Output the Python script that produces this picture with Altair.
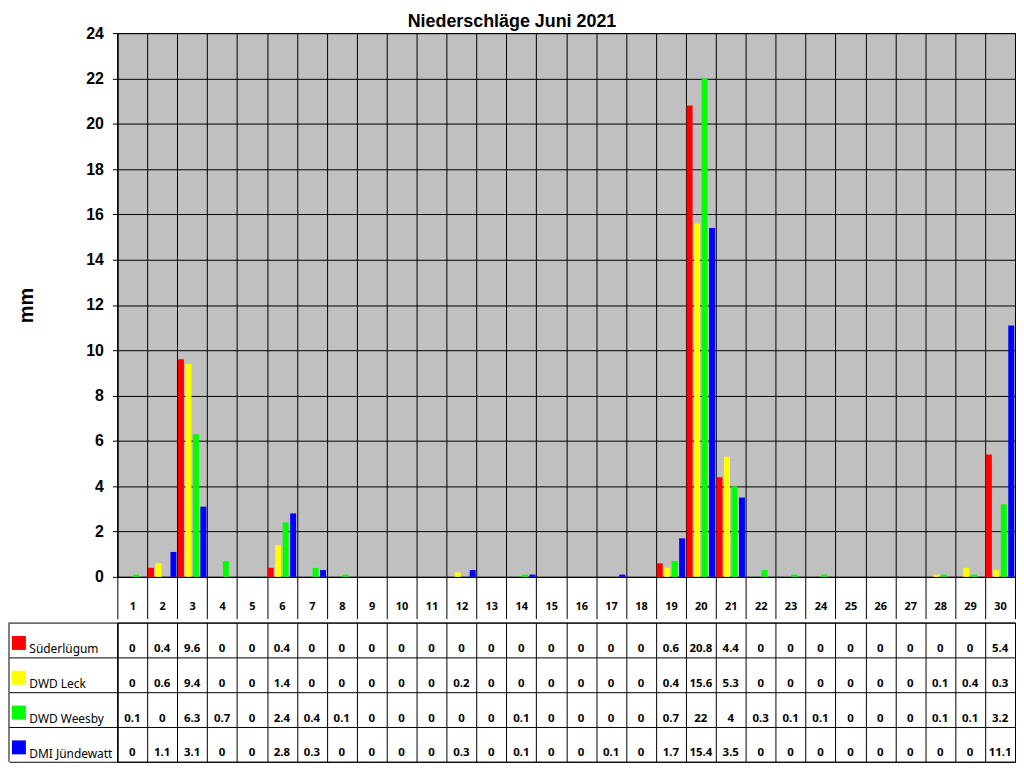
import altair as alt
import pandas as pd

days = list(range(1, 31))
stations = ["Süderlügum", "DWD Leck", "DWD Weesby", "DMI Jündewatt"]
colors = ["#ff0000", "#ffff00", "#00ff00", "#0000ff"]

suederluegum = [0, 0.4, 9.6, 0, 0, 0.4, 0, 0, 0, 0, 0, 0, 0, 0, 0, 0, 0, 0, 0.6, 20.8,
                4.4, 0, 0, 0, 0, 0, 0, 0, 0, 5.4]
leck = [0, 0.6, 9.4, 0, 0, 1.4, 0, 0, 0, 0, 0, 0.2, 0, 0, 0, 0, 0, 0, 0.4, 15.6,
        5.3, 0, 0, 0, 0, 0, 0, 0.1, 0.4, 0.3]
weesby = [0.1, 0, 6.3, 0.7, 0, 2.4, 0.4, 0.1, 0, 0, 0, 0, 0, 0.1, 0, 0, 0, 0, 0.7, 22,
          4, 0.3, 0.1, 0.1, 0, 0, 0, 0.1, 0.1, 3.2]
juendewatt = [0, 1.1, 3.1, 0, 0, 2.8, 0.3, 0, 0, 0, 0, 0.3, 0, 0.1, 0, 0, 0.1, 0, 1.7, 15.4,
              3.5, 0, 0, 0, 0, 0, 0, 0, 0, 11.1]

series = [suederluegum, leck, weesby, juendewatt]
rows = []
for st, vals in zip(stations, series):
    for d, v in zip(days, vals):
        rows.append({"day": d, "station": st, "value": v})
df = pd.DataFrame(rows)
st_df = pd.DataFrame({"station": stations})

FONT_T = "Noto Sans"

x_bar = alt.X(
    "day:O", sort=days,
    scale=alt.Scale(paddingInner=0, paddingOuter=0),
    axis=alt.Axis(title=None, labelAngle=0, tickBand="extent", tickSize=42, tickColor="black",
                  grid=True, gridColor="black", gridOpacity=1, domainColor="black",
                  labelFont=FONT_T, labelFontWeight="bold", labelFontSize=11, labelColor="black",
                  labelPadding=-18),
)

bars = alt.Chart(df).mark_bar(strokeWidth=0).encode(
    x=x_bar,
    xOffset=alt.XOffset("station:N", scale=alt.Scale(domain=stations, paddingInner=0.2, paddingOuter=0.1)),
    y=alt.Y("value:Q", scale=alt.Scale(domain=[0, 24], nice=False),
            axis=alt.Axis(values=list(range(0, 25, 2)), title="mm", titleFont="Liberation Sans",
                          titleFontSize=20, titleFontWeight="bold", titleColor="black", titlePadding=50,
                          labelFont="Liberation Sans", labelFontSize=16, labelFontWeight="bold",
                          labelColor="black", tickSize=5, tickColor="black", labelPadding=9,
                          grid=True, gridColor="black", gridOpacity=1, domainColor="black")),
    color=alt.Color("station:N", scale=alt.Scale(domain=stations, range=colors), legend=None),
).properties(width=903, height=547, view=alt.ViewBackground(fill="#c0c0c0", stroke="black"))

y_tab = alt.Y(
    "station:N",
    scale=alt.Scale(domain=stations, paddingInner=0, paddingOuter=0),
    axis=alt.Axis(title=None, tickBand="extent", tickSize=109, tickColor="black", domainColor="black",
                  grid=True, gridColor="black", gridOpacity=1, labelAlign="left", labelPadding=-20,
                  labelBaseline="middle", labelOffset=9, labelFont=FONT_T, labelFontSize=12,
                  labelColor="black"),
)
x_tab = alt.X(
    "day:O", sort=days,
    scale=alt.Scale(paddingInner=0, paddingOuter=0),
    axis=alt.Axis(title=None, labels=False, ticks=False, domain=False, grid=True, gridColor="black",
                  gridOpacity=1, tickBand="extent"),
)

text = alt.Chart(df).mark_text(font=FONT_T, fontSize=11.5, fontWeight="bold", dy=9, color="black").encode(
    x=x_tab, y=y_tab, text=alt.Text("value:Q"),
)

squares = alt.Chart(st_df).mark_square(size=196, opacity=1, yOffset=3).encode(
    x=alt.value(-99),
    y=y_tab,
    color=alt.Color("station:N", scale=alt.Scale(domain=stations, range=colors), legend=None),
)

border = alt.Chart(pd.DataFrame({"a": [0]})).mark_rule(color="black").encode(
    x=alt.value(-109), y=alt.value(0), y2=alt.value(140),
)

table = alt.layer(text, squares, border).properties(
    width=903, height=140, view=alt.ViewBackground(fill="white", stroke="black"))

chart = alt.vconcat(bars, table, spacing=-4).properties(
    title=alt.Title("Niederschläge Juni 2021", font="Liberation Sans", fontSize=18, fontWeight="bold",
                    anchor="middle", frame="bounds", offset=-6, color="black"),
    padding={"left": 0, "top": 2, "right": 0, "bottom": 0},
).configure(background="white")

chart.save("out.html", embed_options={"renderer": "svg", "actions": False})
